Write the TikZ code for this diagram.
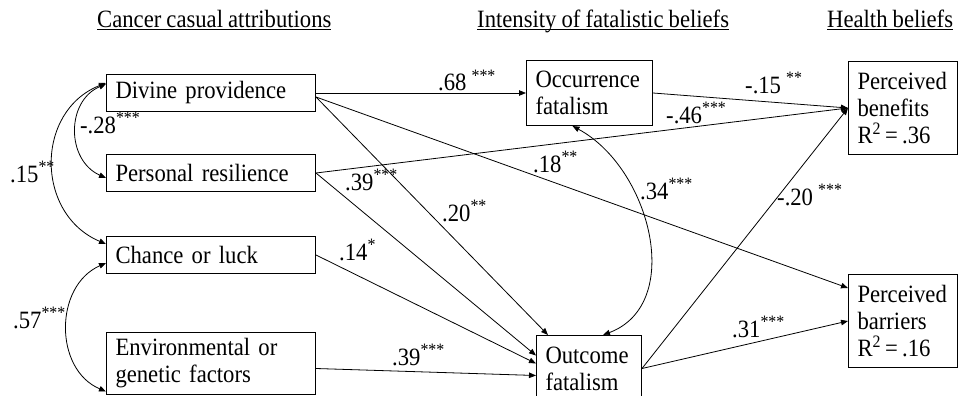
\documentclass[tikz,border=0pt]{standalone}
\usepackage{fontspec}
\setmainfont{Liberation Serif}[FakeStretch=0.91, WordSpace=0.9]
\usetikzlibrary{arrows.meta}
\newcommand{\diagfont}{\fontsize{24.9}{27}\selectfont}

\begin{document}
\begin{tikzpicture}[
    x=1pt, y=-1pt,
    box/.style={rectangle, draw=black, line width=1pt, anchor=north west, inner xsep=9pt, inner ysep=2pt, align=left, font=\diagfont},
    head/.style={anchor=base west, inner sep=0pt, font=\diagfont},
    lbl/.style={anchor=base west, inner sep=0pt, font=\diagfont},
    arrow/.style={-{Triangle[length=7pt, width=5.5pt]}, line width=0.8pt},
    dbl/.style={{Triangle[length=7pt, width=5.5pt]}-{Triangle[length=7pt, width=5.5pt]}, line width=0.8pt}
]
\useasboundingbox (0,0) rectangle (961,396);

\node[head] (hcause) at (97,28) {\underline{\smash{Cancer casual attributions}}};
\node[head] (hfatal) at (477,28) {\underline{\smash{Intensity of fatalistic beliefs}}};
\node[head] (hhealth) at (827,28) {\underline{\smash{Health beliefs}}};

\node[box, text width=191pt, minimum height=37pt] (divine) at (106,74) {Divine providence};
\node[box, text width=191pt, minimum height=37pt] (resil) at (106,154) {Personal resilience};
\node[box, text width=191pt, minimum height=37pt] (chance) at (106,236) {Chance or luck};
\node[box, text width=191pt, minimum height=62pt] (envgen) at (106,332) {Environmental or\\genetic factors};
\node[box, text width=108pt, minimum height=65pt] (occur) at (526,60) {Occurrence\\fatalism};
\node[box, text width=87pt, minimum height=66pt] (outcome) at (536,335) {Outcome\\fatalism};
\node[box, text width=91pt, minimum height=93pt] (benefit) at (848,61) {Perceived\\benefits\\R\textsuperscript{2}\,=\,.36};
\node[box, text width=91pt, minimum height=93pt] (barrier) at (848,274) {Perceived\\barriers\\R\textsuperscript{2}\,=\,.16};

\draw[arrow] (divine.east) -- (occur.west);
\draw[arrow] ([yshift=-4pt]divine.east) -- ([yshift=33pt]barrier.west);
\draw[arrow] ([yshift=-4pt]divine.east) -- ([xshift=12pt]outcome.north west);
\draw[arrow] (resil.east) -- (benefit.west);
\draw[arrow] (resil.east) -- ([yshift=13pt]outcome.west);
\draw[arrow] (chance.east) -- ([yshift=5pt]outcome.west);
\draw[arrow] ([yshift=-5pt]envgen.east) -- ([yshift=-7pt]outcome.west);
\draw[arrow] (occur.east) -- (benefit.west);
\draw[arrow] (outcome.east) -- (benefit.west);
\draw[arrow] (outcome.east) -- (barrier.west);

\draw[dbl] ([yshift=9pt]divine.west) .. controls +(-40,17) and +(-40,-18) .. ([yshift=-5pt]resil.west);
\draw[dbl] ([yshift=10pt]divine.west) .. controls +(-71,28) and +(-71,-30) .. ([yshift=11pt]chance.west);
\draw[dbl] ([yshift=-8pt]chance.west) .. controls +(-52,23) and +(-52,-22) .. ([yshift=-28pt]envgen.west);
\draw[dbl] ([xshift=-17pt]occur.south) .. controls +(78,42) and +(82,-31) .. ([xshift=14pt]outcome.north);

\node[lbl] (l68) at (438,91) {.68 \textsuperscript{***}};
\node[lbl] (l15n) at (745,93) {-.15 \textsuperscript{**}};
\node[lbl] (l46) at (666,123) {-.46\textsuperscript{***}};
\node[lbl] (l18) at (533,172) {.18\textsuperscript{**}};
\node[lbl] (l34) at (640,199) {.34\textsuperscript{***}};
\node[lbl] (l20n) at (777,205) {-.20 \textsuperscript{***}};
\node[lbl] (l31) at (732,337) {.31\textsuperscript{***}};
\node[lbl] (l39a) at (345,190) {.39\textsuperscript{***}};
\node[lbl] (l20) at (442,221) {.20\textsuperscript{**}};
\node[lbl] (l14) at (339,260) {.14\textsuperscript{*}};
\node[lbl] (l39b) at (392,365) {.39\textsuperscript{***}};
\node[lbl] (l28) at (80,133) {-.28\textsuperscript{***}};
\node[lbl] (l15) at (10,182) {.15\textsuperscript{**}};
\node[lbl] (l57) at (13,328) {.57\textsuperscript{***}};

\end{tikzpicture}
\end{document}
